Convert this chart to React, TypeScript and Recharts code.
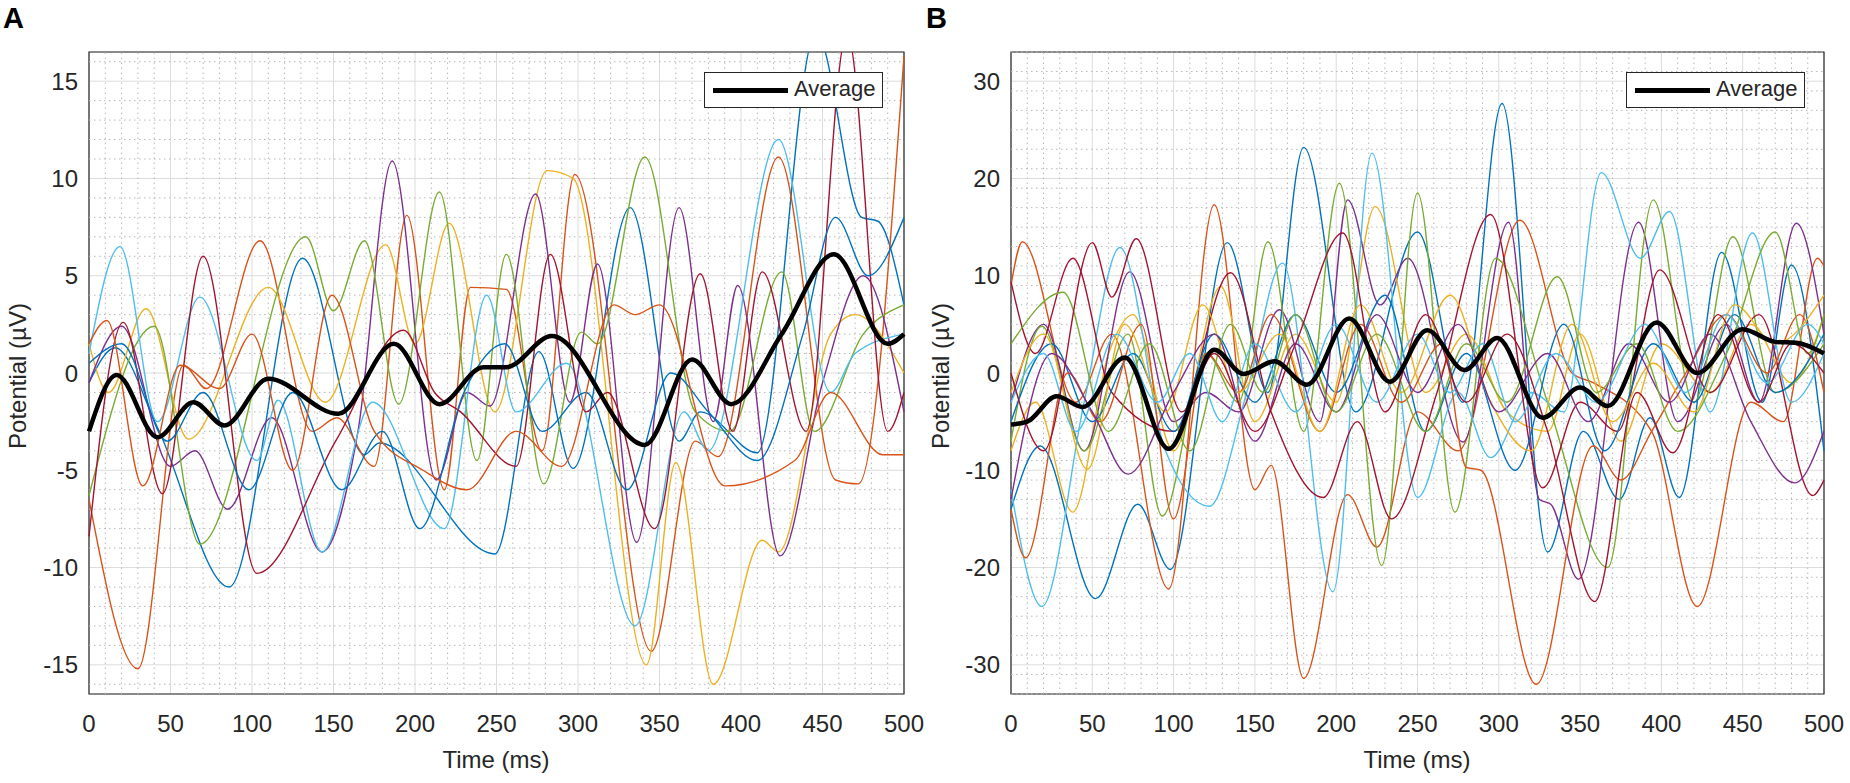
import React from "react";
import {
  LineChart, Line, XAxis, YAxis, CartesianGrid, ReferenceLine, ReferenceArea,
} from "recharts";

type Pt = [number, number];

const BLUE = "#0072BD";
const ORANGE = "#D95319";
const YELLOW = "#EDB120";
const PURPLE = "#7E2F8E";
const GREEN = "#77AC30";
const CYAN = "#4DBEEE";
const CRIMSON = "#A2142F";
const AXIS = "#262626";

const X_TICKS = [0, 50, 100, 150, 200, 250, 300, 350, 400, 450, 500];
const A_Y_TICKS = [-15, -10, -5, 0, 5, 10, 15];
const B_Y_TICKS = [-30, -20, -10, 0, 10, 20, 30];

// panel A: (time ms, potential uV) at peaks / troughs
const A_BLUE: Pt[] = [[0, -0.5], [16, 1.3], [42, -2.8], [86, -11], [131, 5.9], [169, -4.2], [178, -3.6], [249, -9.3], [276, 1.1], [297, -4.9], [332, 8.5], [362, -3.5], [375, -2], [410, -4.1], [446, 17.5], [474, 8], [484, 7.8], [500, 3.5]];
const A_ORANGE: Pt[] = [[0, -6.5], [30, -15.2], [58, 0.4], [72, -0.8], [105, 6.8], [137, -3], [152, -2.3], [175, -4.8], [195, 8.1], [218, -6], [234, 4.4], [256, 4.3], [278, -4], [298, 10.2], [345, -14.3], [372, -3.5], [386, -4.3], [423, 11.1], [458, -5.5], [472, -5.7], [500, 16.3]];
const A_YELLOW: Pt[] = [[0, 1.5], [12, -1], [35, 3.3], [61, -3.4], [110, 4.4], [145, -1.5], [182, 6.6], [200, 1.5], [221, 7.7], [249, -2], [281, 10.4], [297, 10], [342, -15], [360, -4.6], [383, -16], [413, -8.6], [423, -9.2], [455, 2], [470, 3], [500, 0]];
const A_PURPLE: Pt[] = [[0, -0.5], [20, 2.4], [50, -4.8], [65, -4], [85, -7], [112, -2.3], [143, -9.2], [165, -3], [186, 10.9], [213, -5.5], [232, -1], [246, -1.7], [274, 9.2], [295, -1.5], [312, 5.6], [336, -8.7], [362, 8.5], [383, -2.5], [398, 4.5], [424, -9.4], [450, -0.5], [475, 5], [500, -2]];
const A_GREEN: Pt[] = [[0, -6.3], [40, 2.4], [68, -8.8], [133, 7], [150, 3.2], [169, 6.8], [190, -1.6], [215, 9.3], [238, -4.5], [256, 6.1], [279, -5.7], [302, 2.1], [312, 1.5], [341, 11.1], [372, -2], [393, -3], [425, 5.2], [445, -3], [475, 2], [500, 3.5]];
const A_CYAN: Pt[] = [[0, 1], [19, 6.5], [42, -2.5], [68, 3.9], [103, -4.5], [116, -1.4], [143, -9.2], [174, -1.5], [218, -8], [244, 4], [262, -2], [293, 0.5], [335, -13], [365, -2], [380, -4], [423, 12], [455, -1], [470, 1], [500, 2]];
const A_CRIMSON: Pt[] = [[0, -8.4], [21, 2.6], [45, -6.2], [70, 6], [103, -10.3], [152, -3.4], [193, 2.2], [212, -1], [228, -2], [262, -4.8], [283, 6.1], [305, -2], [318, -1], [347, -8], [375, 5.1], [395, -3], [413, 5.2], [440, -3], [465, 17.5], [490, -3], [500, -1]];
const A_BLUE_2: Pt[] = [[0, 0.5], [20, 1.5], [48, -3.5], [70, -1], [98, -6], [125, -1], [155, -6], [180, -3], [203, -8], [230, -1], [255, 1.5], [278, -3], [305, -1], [330, -6], [357, 0], [380, -2], [410, -4.5], [438, 2], [458, 8], [478, 5], [500, 8]];
const A_ORANGE_2: Pt[] = [[0, 1.5], [11, 2.7], [33, -5.8], [56, 0.4], [80, -0.8], [100, 2], [125, -5], [149, 4], [175, -3], [205, -5], [232, -6], [262, -3], [290, -4.8], [322, 3.5], [335, 3], [350, 3.5], [390, -5.8], [433, -4.5], [455, -1], [487, -4.2], [500, -4.2]];
const A_AVERAGE: Pt[] = [[0, -3], [17, -0.1], [42, -3.3], [64, -1.5], [83, -2.7], [110, -0.3], [153, -2.1], [187, 1.5], [215, -1.6], [242, 0.3], [256, 0.3], [284, 1.9], [341, -3.7], [370, 0.7], [394, -1.6], [425, 2], [457, 6.1], [490, 1.5], [500, 2]];

// panel B
const B_BLUE: Pt[] = [[0, -14], [18, -7.5], [52, -23.2], [78, -13.5], [98, -20.2], [133, 13.4], [158, -2], [180, 23.2], [212, -4], [250, 14.5], [278, -3], [302, 27.7], [330, -18.4], [352, -6], [374, -13], [393, -4.6], [411, -12.8], [437, 12.4], [462, -3], [480, 11.1], [500, -8]];
const B_ORANGE: Pt[] = [[0, 9], [7, 13.5], [40, -3], [62, 4], [97, -22.2], [125, 17.3], [150, -12], [160, -9.5], [180, -31.4], [207, -12.5], [225, -17.9], [250, -4], [275, -8], [313, 15.7], [345, 0], [358, -1], [394, -6], [422, -24], [455, -3], [475, -5], [496, 11.8], [500, 11]];
const B_YELLOW: Pt[] = [[0, -8], [15, -3], [38, -14.3], [60, 2], [75, 6], [100, -8], [129, 8.9], [150, -5], [175, 4], [200, -3], [224, 17.1], [255, -2], [280, 4], [305, -4], [330, -6], [350, 4], [375, -7], [400, 3], [430, -2], [455, 5], [480, -1], [500, 6]];
const B_PURPLE: Pt[] = [[0, -3], [20, 5], [45, -8], [73, 10.4], [100, -5], [120, -2], [140, -4], [165, 6.5], [190, -5], [207, 17.8], [227, 7], [244, 11.8], [278, -7.1], [306, 15.5], [325, -13], [332, -13.5], [349, -21.2], [386, 15.5], [410, -5], [440, 5], [460, -3], [483, 15.4], [500, 4]];
const B_GREEN: Pt[] = [[0, -7], [19, 4.8], [45, -8], [72, 4], [93, -14.7], [120, 2], [140, -3], [158, 13.5], [180, -6], [202, 19.5], [228, -19.8], [250, 18.5], [273, -14.3], [298, 11.8], [330, -3], [367, -20], [395, 17.8], [420, -3], [444, 14], [470, -2], [500, 3]];
const B_CYAN: Pt[] = [[0, -12], [19, -24], [45, -3], [67, 12.9], [95, -8], [122, -13.7], [145, -2], [167, 11.3], [198, -22.5], [222, 22.6], [250, -12.8], [275, -2], [295, -8.7], [320, -2], [340, -4], [363, 20.6], [387, 11.8], [405, 16.6], [430, -4], [456, 14.4], [480, -3], [500, 2]];
const B_CRIMSON: Pt[] = [[0, 9.4], [15, 2], [38, 11.8], [62, -2], [100, -6], [135, 10.3], [160, -4], [192, -12.8], [213, -5], [234, -15], [262, -2], [295, 16.3], [327, -11.8], [350, -3], [373, -6], [399, 10.6], [430, -2], [460, 6], [493, -12.6], [500, -11]];
const B_BLUE_2: Pt[] = [[0, -5], [25, 3], [50, -5], [75, 2], [100, -6], [125, 4], [150, -3], [175, 6], [200, -2], [230, 8], [255, -6], [280, 2], [310, -10], [340, 5], [365, -8], [395, 3], [420, -3], [445, 6], [470, -2], [500, 4]];
const B_ORANGE_2: Pt[] = [[0, -14], [9, -19], [35, 0], [55, -5], [80, 5], [100, -15], [120, 2], [140, -2], [160, 6], [190, -6], [215, 5], [240, -3], [265, 3], [280, -9.7], [289, -10], [323, -32], [358, -7.5], [375, -11], [394, -6], [415, 0], [440, 6], [465, 0], [485, 6], [500, -2]];
const B_YELLOW_2: Pt[] = [[0, -2], [20, 4], [47, -9.9], [70, 5], [95, -4], [118, 7], [140, -2], [165, 4], [190, -6], [215, 7], [240, -2], [270, 8], [295, -3], [320, -8], [345, 5], [370, -5], [395, 1], [420, -4], [445, 7], [470, 3], [500, 8]];
const B_PURPLE_2: Pt[] = [[0, -13], [25, 2], [50, -4], [72, -10.4], [100, -2], [125, 4], [150, -7], [175, 3], [200, -4], [225, 6], [250, -2], [275, 5], [300, -4], [330, 2], [355, -5], [380, 3], [405, -3], [430, 4], [455, -5], [482, -11.3], [500, -6]];
const B_GREEN_2: Pt[] = [[0, 3], [32, 8.3], [60, -6], [85, 3], [110, -8], [135, 5], [155, -2], [175, 6], [200, -4], [225, 4], [255, -6], [280, 3], [305, -3], [336, 9.9], [360, -2], [385, 3], [410, -6], [440, 2], [470, 14.5], [490, 2], [500, 6]];
const B_CYAN_2: Pt[] = [[0, -3], [20, 2], [40, -6], [65, 4], [90, -3], [110, 2], [130, -5], [150, 3], [175, -4], [200, 5], [225, -3], [250, 4], [270, -2], [290, 3], [310, -5], [335, 2], [360, -3], [390, 5], [415, -2], [440, 6], [465, -1], [490, 5], [500, 3]];
const B_CRIMSON_2: Pt[] = [[0, 0], [20, -8], [50, 13.4], [62, 7.8], [77, 13.8], [105, -4], [125, 2], [150, -6], [175, 3], [204, 14.4], [230, -4], [255, 6], [280, -3], [305, 4], [330, -6], [359, -23.5], [385, -2], [407, -8.2], [435, 6], [460, -3], [480, 3], [500, 0]];
const B_AVERAGE: Pt[] = [[0, -5.3], [10, -5], [28, -2.4], [44, -3.5], [70, 1.6], [97, -7.8], [125, 2.4], [143, -0.1], [162, 1.2], [182, -1.2], [208, 5.6], [233, -0.9], [256, 4.4], [279, 0.3], [299, 3.6], [327, -4.6], [350, -1.5], [367, -3.4], [397, 5.2], [422, 0], [450, 4.5], [470, 3.2], [483, 3.1], [500, 2]];

type Trace = { color: string; pts: Pt[] };

const A_TRACES: Trace[] = [
  { color: BLUE, pts: A_BLUE }, { color: ORANGE, pts: A_ORANGE }, { color: YELLOW, pts: A_YELLOW },
  { color: PURPLE, pts: A_PURPLE }, { color: GREEN, pts: A_GREEN }, { color: CYAN, pts: A_CYAN },
  { color: CRIMSON, pts: A_CRIMSON }, { color: BLUE, pts: A_BLUE_2 }, { color: ORANGE, pts: A_ORANGE_2 },
];
const B_TRACES: Trace[] = [
  { color: BLUE, pts: B_BLUE }, { color: ORANGE, pts: B_ORANGE }, { color: YELLOW, pts: B_YELLOW },
  { color: PURPLE, pts: B_PURPLE }, { color: GREEN, pts: B_GREEN }, { color: CYAN, pts: B_CYAN },
  { color: CRIMSON, pts: B_CRIMSON }, { color: BLUE, pts: B_BLUE_2 }, { color: ORANGE, pts: B_ORANGE_2 },
  { color: YELLOW, pts: B_YELLOW_2 }, { color: PURPLE, pts: B_PURPLE_2 }, { color: GREEN, pts: B_GREEN_2 },
  { color: CYAN, pts: B_CYAN_2 }, { color: CRIMSON, pts: B_CRIMSON_2 },
];

const FONT = '"Liberation Sans", Arial, Helvetica, sans-serif';
const tickStyle = { fill: AXIS, fontSize: 24, fontFamily: FONT };

const rows = (pts: Pt[]) => pts.map(([t, v]) => ({ t, v }));

function range(from: number, to: number, step: number) {
  const out: number[] = [];
  for (let v = from; v <= to + 1e-9; v += step) out.push(v);
  return out;
}

type PanelProps = {
  left: number;
  width: number;
  rightPad: number;
  yAxisWidth: number;
  yLim: number;
  yTicks: number[];
  yMinorStep: number;
  yMajorStep: number;
  traces: Trace[];
  average: Pt[];
};

function Panel({ left, width, rightPad, yAxisWidth, yLim, yTicks, yMinorStep, yMajorStep, traces, average }: PanelProps) {
  const xMinor = range(10, 490, 10).filter((t) => t % 50 !== 0);
  const yMinor = range(-Math.floor(yLim), Math.floor(yLim), yMinorStep).filter((v) => v % yMajorStep !== 0);
  const domain: [number, number] = [-yLim, yLim];
  return (
    <div style={{ position: "absolute", left, top: 0 }}>
      <LineChart width={width} height={783} margin={{ top: 52, right: rightPad, bottom: 0, left: 0 }}>
        <XAxis dataKey="t" type="number" domain={[0, 500]} ticks={X_TICKS} interval={0}
          height={89} tickSize={0} tickMargin={21} axisLine={false} tickLine={false} tick={tickStyle} />
        <YAxis type="number" domain={domain} ticks={yTicks} interval={0} allowDataOverflow
          width={yAxisWidth} tickSize={0} tickMargin={11} axisLine={false} tickLine={false} tick={tickStyle} />
        <XAxis xAxisId="bm" dataKey="t" type="number" domain={[0, 500]} ticks={X_TICKS} orientation="bottom" mirror
          tick={false} tickSize={7} axisLine={false} tickLine={{ stroke: AXIS }} />
        <XAxis xAxisId="tm" dataKey="t" type="number" domain={[0, 500]} ticks={X_TICKS} orientation="top" mirror
          tick={false} tickSize={7} axisLine={false} tickLine={{ stroke: AXIS }} />
        <YAxis yAxisId="lm" type="number" domain={domain} ticks={yTicks} orientation="left" mirror
          tick={false} tickSize={7} axisLine={false} tickLine={{ stroke: AXIS }} />
        <YAxis yAxisId="rm" type="number" domain={domain} ticks={yTicks} orientation="right" mirror
          tick={false} tickSize={7} axisLine={false} tickLine={{ stroke: AXIS }} />
        {xMinor.map((t) => (
          <ReferenceLine key={"x" + t} x={t} stroke="#b8b8b8" strokeDasharray="1.5 3.5" />
        ))}
        {yMinor.map((v) => (
          <ReferenceLine key={"y" + v} y={v} stroke="#b8b8b8" strokeDasharray="1.5 3.5" />
        ))}
        <CartesianGrid stroke="#dcdcdc" />
        {traces.map((tr, i) => (
          <Line key={i} data={rows(tr.pts)} dataKey="v" type="monotone" stroke={tr.color}
            strokeWidth={1.4} dot={false} activeDot={false} isAnimationActive={false} />
        ))}
        <Line data={rows(average)} dataKey="v" type="monotone" stroke="#000" strokeWidth={4.5}
          dot={false} activeDot={false} isAnimationActive={false} />
        <ReferenceArea x1={0} x2={500} y1={-yLim} y2={yLim} fill="none" stroke={AXIS} strokeWidth={1.2} />
      </LineChart>
    </div>
  );
}

function LegendBox({ left }: { left: number }) {
  return (
    <div style={{
      position: "absolute", left, top: 72, width: 177, height: 34, border: `1px solid ${AXIS}`,
      background: "#fff", boxSizing: "content-box",
    }}>
      <div style={{ position: "absolute", left: 8, top: 15, width: 75, height: 5, background: "#000" }} />
      <div style={{ position: "absolute", left: 89, top: 3, fontSize: 22, color: AXIS, fontFamily: FONT }}>
        Average
      </div>
    </div>
  );
}

const textBase: React.CSSProperties = { position: "absolute", fontFamily: FONT, color: AXIS, whiteSpace: "nowrap" };

export default function App() {
  return (
    <div style={{ position: "absolute", left: 0, top: 0, width: 1850, height: 783, background: "#fff", fontFamily: FONT, overflow: "hidden" }}>
      <Panel left={0} width={940} rightPad={36} yAxisWidth={89} yLim={16.5} yTicks={A_Y_TICKS}
        yMinorStep={1} yMajorStep={5} traces={A_TRACES} average={A_AVERAGE} />
      <Panel left={930} width={920} rightPad={26} yAxisWidth={81} yLim={33} yTicks={B_Y_TICKS}
        yMinorStep={2} yMajorStep={10} traces={B_TRACES} average={B_AVERAGE} />
      <LegendBox left={704} />
      <LegendBox left={1626} />
      <div style={{ ...textBase, left: 3, top: 2, fontSize: 29, fontWeight: "bold", color: "#000" }}>A</div>
      <div style={{ ...textBase, left: 926, top: 2, fontSize: 29, fontWeight: "bold", color: "#000" }}>B</div>
      <div style={{ ...textBase, left: 496, top: 760, fontSize: 24, transform: "translate(-50%, -50%)" }}>Time (ms)</div>
      <div style={{ ...textBase, left: 1417, top: 760, fontSize: 24, transform: "translate(-50%, -50%)" }}>Time (ms)</div>
      <div style={{ ...textBase, left: 18, top: 376, fontSize: 24, transform: "translate(-50%, -50%) rotate(-90deg)" }}>Potential (µV)</div>
      <div style={{ ...textBase, left: 941, top: 376, fontSize: 24, transform: "translate(-50%, -50%) rotate(-90deg)" }}>Potential (µV)</div>
    </div>
  );
}
